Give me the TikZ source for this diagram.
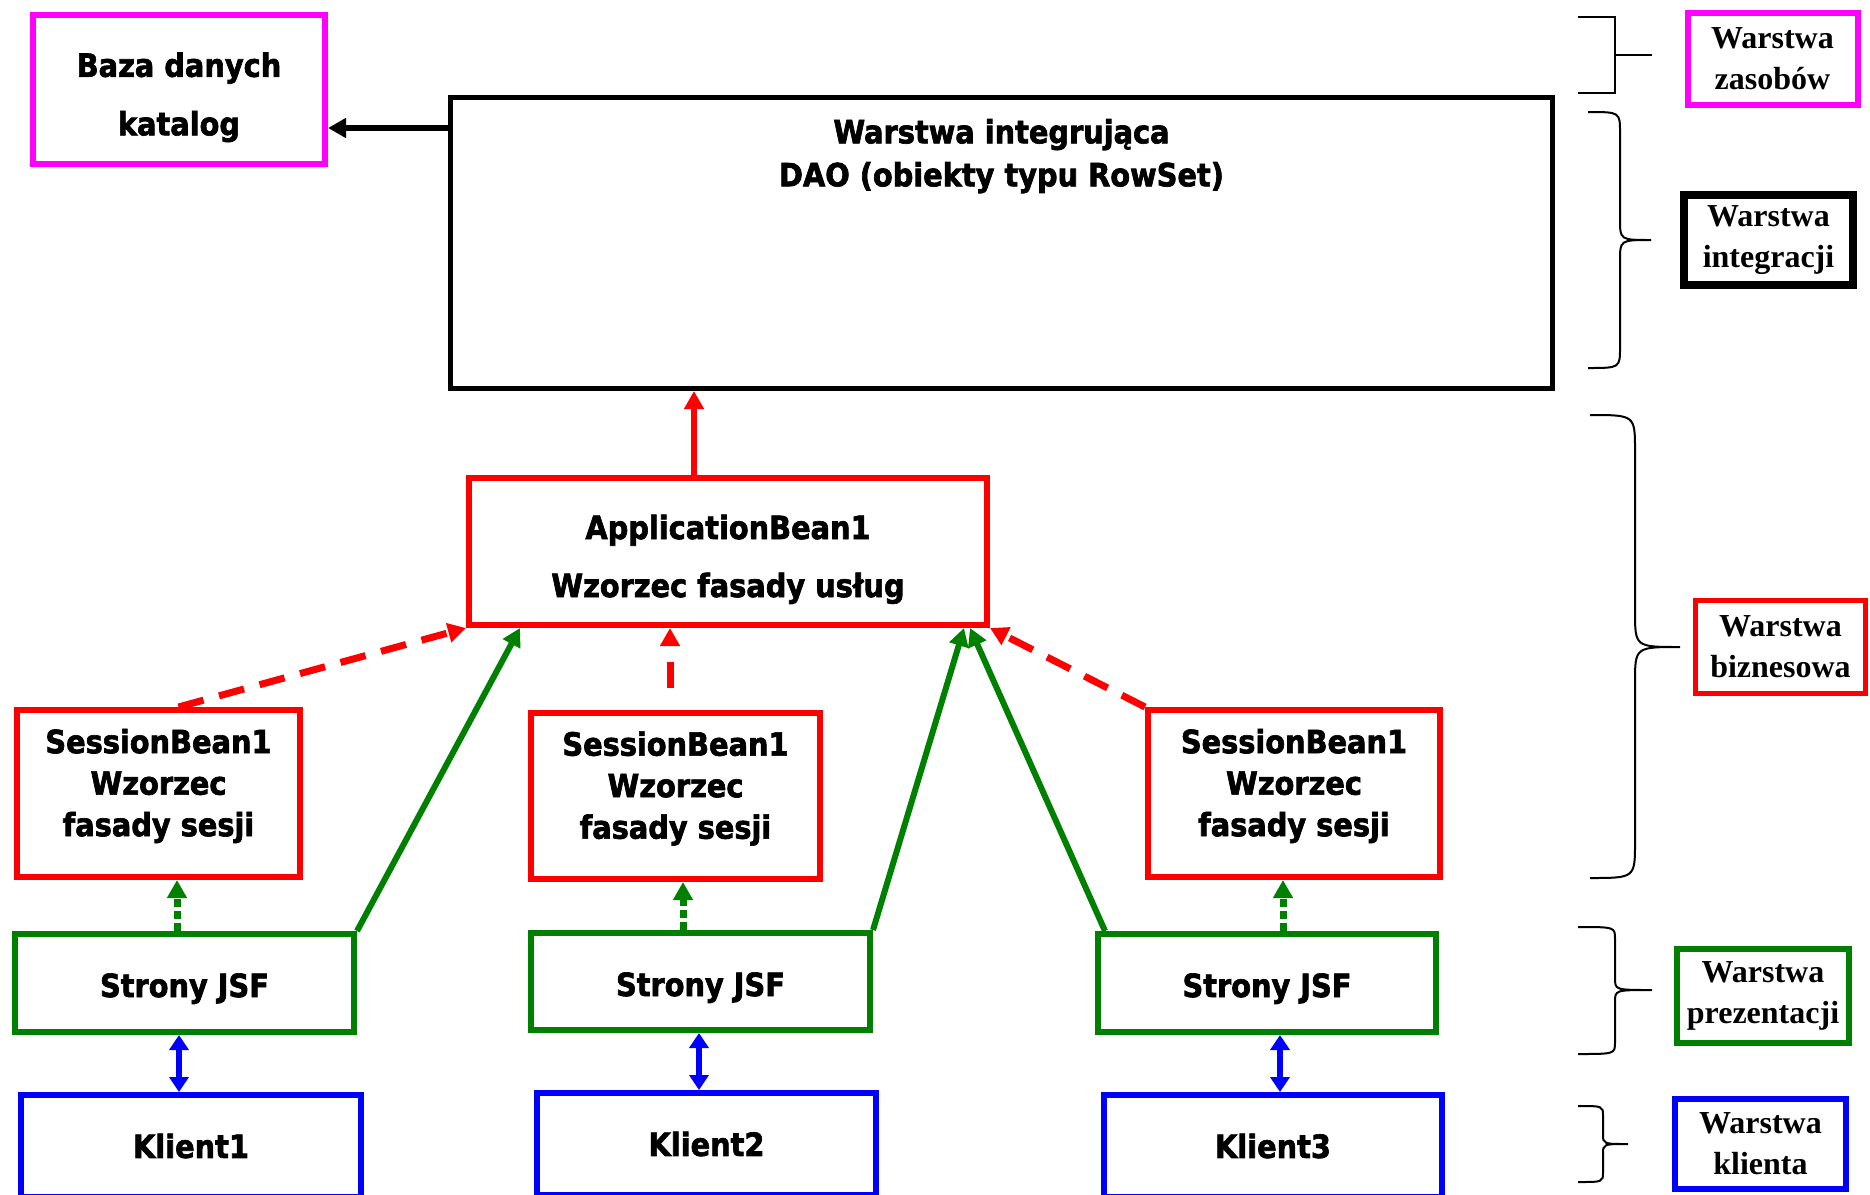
\documentclass[tikz,border=0pt]{standalone}
\usepackage{fontspec}
\setmainfont{Liberation Serif}
\newfontfamily\boxfont{DejaVu Sans}[FakeStretch=0.9, BoldFeatures={FakeBold=2}]
\usetikzlibrary{arrows.meta}

\definecolor{jred}{RGB}{255,0,0}
\definecolor{jgreen}{RGB}{0,128,0}
\definecolor{jblue}{RGB}{0,0,255}
\definecolor{jmagenta}{RGB}{255,0,255}

\tikzset{
  tier/.style={draw, line width=6pt, align=center, inner sep=0pt,
    font=\boxfont\bfseries\fontsize{32}{41.5}\selectfont},
  tag/.style={draw, line width=6pt, align=center, inner sep=0pt,
    minimum width=170pt, minimum height=92pt,
    font=\bfseries\fontsize{32}{41}\selectfont},
  brace line/.style={line width=2pt},
  headed/.style={-{Triangle[length=18pt,width=19pt]}, line width=6pt},
  twoway/.style={{Triangle[length=15pt,width=19pt]}-{Triangle[length=15pt,width=19pt]}, line width=6pt, jblue},
  calls/.style={headed, jgreen},
  uses/.style={headed, jred, line width=7pt, dash pattern=on 26pt off 16pt},
  binds/.style={headed, jgreen, line width=7pt, dash pattern=on 8pt off 4pt}
}

% extra room above the first line / below the last line of a box text
\newcommand{\padtop}[1]{\rule{0pt}{#1}}
\newcommand{\padbot}[1]{\rule[-#1]{0pt}{0pt}}

% x0, xv, xtip, ytop, ymid, ybot, r
\newcommand{\layerbrace}[7]{%
  \draw[brace line] (#1,#4) .. controls (#2,#4) .. (#2,{#4+#7}) -- (#2,{#5-#7})
    .. controls (#2,#5) .. (#3,#5) .. controls (#2,#5) .. (#2,{#5+#7})
    -- (#2,{#6-#7}) .. controls (#2,#6) .. (#1,#6);}

\begin{document}
\begin{tikzpicture}[x=1pt, y=-1pt]
    \useasboundingbox (0,0) rectangle (1870,1194);
    \clip (0,0) rectangle (1870,1194);

    % Resources and integration
    \node[tier, draw=jmagenta, minimum width=292pt, minimum height=149pt] (db) at (179,89.5) {\padtop{40pt}Baza danych\\[17pt]katalog};
    \node[tier, line width=5pt, minimum width=1102pt, minimum height=291pt] (dao) at (1001.5,243) {};
    \node[tier, draw=none, anchor=north, font=\boxfont\bfseries\fontsize{32}{43}\selectfont] (daotext) at (1001.5,116) {Warstwa integrująca\\DAO (obiekty typu RowSet)};

    % Business layer
    \node[tier, draw=jred, minimum width=518pt, minimum height=147pt] (ab) at (728,551.5) {\padtop{40pt}ApplicationBean1\\[16.5pt]Wzorzec fasady usług};
    \node[tier, draw=jred, minimum width=283pt, minimum height=167pt] (sb1) at (158.5,793.5) {SessionBean1\\Wzorzec\\fasady sesji\padbot{22pt}};
    \node[tier, draw=jred, minimum width=289pt, minimum height=166pt] (sb2) at (675.5,796) {SessionBean1\\Wzorzec\\fasady sesji\padbot{22pt}};
    \node[tier, draw=jred, minimum width=292pt, minimum height=167pt] (sb3) at (1294,793.5) {SessionBean1\\Wzorzec\\fasady sesji\padbot{22pt}};

    % Presentation layer
    \node[tier, draw=jgreen, minimum width=339pt, minimum height=98pt] (jsf1) at (184.5,983) {\padtop{35pt}Strony JSF};
    \node[tier, draw=jgreen, minimum width=339pt, minimum height=97pt] (jsf2) at (700.5,981.5) {\padtop{36pt}Strony JSF};
    \node[tier, draw=jgreen, minimum width=338pt, minimum height=98pt] (jsf3) at (1267,983) {\padtop{35pt}Strony JSF};

    % Clients
    \node[tier, draw=jblue, minimum width=340pt, minimum height=102pt] (k1) at (191,1146) {Klient1};
    \node[tier, draw=jblue, minimum width=339pt, minimum height=102pt] (k2) at (706.5,1144) {Klient2};
    \node[tier, draw=jblue, minimum width=338pt, minimum height=102pt] (k3) at (1273,1146) {Klient3};

    % Link positions
    \coordinate (dblink) at ([yshift=-38.5pt]db.east);
    \coordinate (abup) at (694,0);
    \coordinate (sbup) at (670,0);
    \coordinate (up1) at (177,0);
    \coordinate (up2) at (683,0);
    \coordinate (up3) at (1283,0);
    \coordinate (kl1) at (179,0);
    \coordinate (kl2) at (699,0);
    \coordinate (kl3) at (1280,0);

    \draw[headed] (dblink -| dao.west) -- (dblink);
    \draw[headed, jred] (ab.north -| abup) -- (dao.south -| abup);

    % Session beans to application bean
    \draw[uses] ([xshift=20pt]sb1.north) -- (ab.south west);
    \draw[uses, dash pattern=on 26pt off 22pt, dash phase=26pt] (sb2.north -| sbup) -- (ab.south -| sbup);
    \draw[uses] (sb3.north west) -- (ab.south east);

    % JSF pages to application bean
    \draw[calls] (jsf1.north east) -- ([xshift=54pt]ab.south west);
    \draw[calls] (jsf2.north east) -- ([xshift=498pt]ab.south west);
    \draw[calls] ([xshift=10pt]jsf3.north west) -- ([xshift=504pt]ab.south west);

    % JSF pages to session beans
    \draw[binds] (jsf1.north -| up1) -- (sb1.south -| up1);
    \draw[binds] (jsf2.north -| up2) -- (sb2.south -| up2);
    \draw[binds] (jsf3.north -| up3) -- (sb3.south -| up3);

    % Clients
    \draw[twoway] (jsf1.south -| kl1) -- (k1.north -| kl1);
    \draw[twoway] (jsf2.south -| kl2) -- (k2.north -| kl2);
    \draw[twoway] (jsf3.south -| kl3) -- (k3.north -| kl3);

    % Layer names
    \node[tag, draw=jmagenta] (zasoby) at (1772.5,59) {Warstwa\\zasobów};
    \node[tag, line width=8pt, minimum width=169pt, minimum height=90pt] (integracja) at (1768.5,240) {Warstwa\\integracji};
    \node[tag, draw=jred, line width=5pt, minimum height=93pt] (biznes) at (1780.5,647) {Warstwa\\biznesowa};
    \node[tag, draw=jgreen, minimum width=172pt, minimum height=94pt] (prezentacja) at (1763,996) {Warstwa\\prezentacji};
    \node[tag, draw=jblue, minimum width=171pt, minimum height=90pt] (klient) at (1760.5,1144) {Warstwa\\klienta};

    % Brackets
    \draw[brace line] (1578,17) -- (1615,17) -- (1615,93) -- (1578,93);
    \draw[brace line] (1615,55) -- (1652,55);
    \layerbrace{1588}{1620}{1651}{112}{240}{368}{21}
    \layerbrace{1590}{1635}{1680}{415}{647}{878}{36}
    \layerbrace{1578}{1615}{1652}{927}{990}{1054}{12}
    \layerbrace{1578}{1603}{1628}{1106}{1144}{1182}{10}

\end{tikzpicture}
\end{document}
